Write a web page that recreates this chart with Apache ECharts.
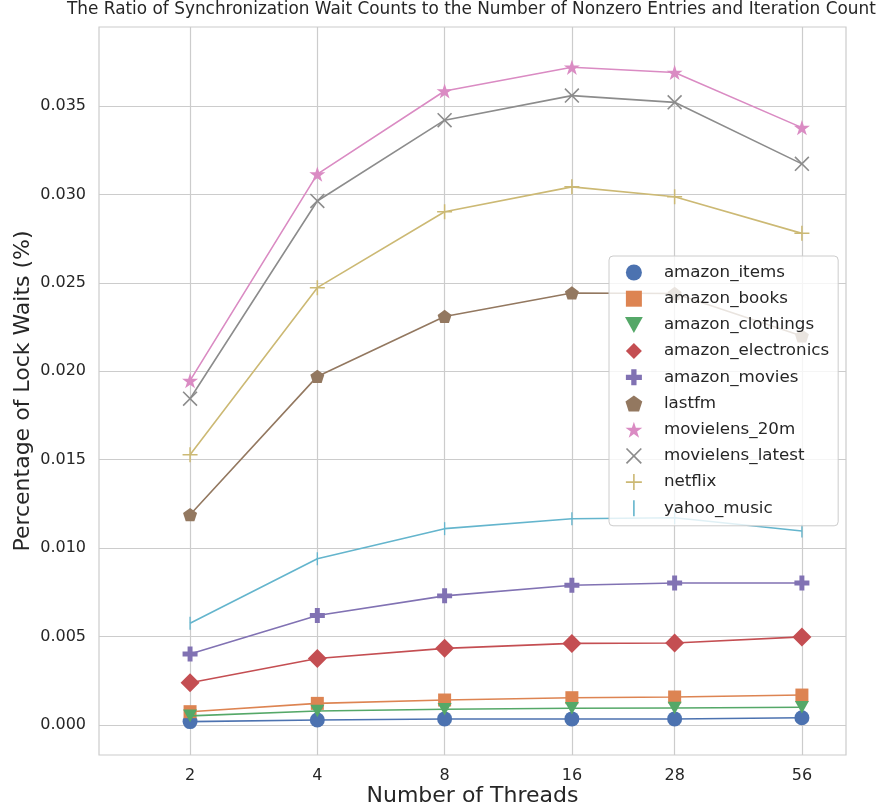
<!DOCTYPE html>
<html>
<head>
<meta charset="utf-8">
<script src="https://cdn.jsdelivr.net/npm/echarts@6/dist/echarts.min.js"></script>
<style>html,body{margin:0;padding:0;background:#fff}#c{width:878px;height:810px}</style>
</head>
<body>
<div id="c"></div>
<script>
const threads = [2, 4, 8, 16, 28, 56];
const xTickLabels = ['2', '4', '8', '16', '28', '56'];
const yTicks = [0, 0.005, 0.010, 0.015, 0.020, 0.025, 0.030, 0.035];

const amazon_items       = [0.00019, 0.00028, 0.00034, 0.00034, 0.00034, 0.00041];
const amazon_books       = [0.00075, 0.00122, 0.00141, 0.00154, 0.00158, 0.00169];
const amazon_clothings   = [0.00051, 0.00079, 0.00089, 0.00094, 0.00096, 0.00100];
const amazon_electronics = [0.00239, 0.00376, 0.00433, 0.00461, 0.00463, 0.00498];
const amazon_movies      = [0.00401, 0.00619, 0.00730, 0.00790, 0.00803, 0.00803];
const lastfm             = [0.01189, 0.01971, 0.02310, 0.02443, 0.02440, 0.02200];
const movielens_20m      = [0.01947, 0.03115, 0.03585, 0.03719, 0.03690, 0.03378];
const movielens_latest   = [0.01845, 0.02963, 0.03420, 0.03559, 0.03521, 0.03173];
const netflix            = [0.01528, 0.02473, 0.02902, 0.03043, 0.02987, 0.02780];
const yahoo_music        = [0.00575, 0.00940, 0.01110, 0.01166, 0.01172, 0.01097];

const seriesNames = ['amazon_items','amazon_books','amazon_clothings','amazon_electronics','amazon_movies','lastfm','movielens_20m','movielens_latest','netflix','yahoo_music'];
const seriesValues = [amazon_items, amazon_books, amazon_clothings, amazon_electronics, amazon_movies, lastfm, movielens_20m, movielens_latest, netflix, yahoo_music];
const colors = ['#4C72B0','#DD8452','#55A868','#C44E52','#8172B3','#937860','#DA8BC3','#8C8C8C','#CCB974','#64B5CD'];

const SYM = {
  circle: 'circle',
  square: 'path://M-1,-1 H1 V1 H-1 Z',
  tri: 'path://M-1,-0.9 L1,-0.9 L0,0.9 Z',
  diamond: 'path://M0,-1 L1,0 L0,1 L-1,0 Z',
  plusFilled: 'path://M-0.33,-1 H0.33 V-0.33 H1 V0.33 H0.33 V1 H-0.33 V0.33 H-1 V-0.33 H-0.33 Z',
  pentagon: 'path://M0,-1 L0.951,-0.309 L0.588,0.809 L-0.588,0.809 L-0.951,-0.309 Z',
  star: 'path://M0,-1 L0.2245,-0.309 L0.951,-0.309 L0.363,0.118 L0.588,0.809 L0,0.382 L-0.588,0.809 L-0.363,0.118 L-0.951,-0.309 L-0.2245,-0.309 Z',
  x: 'path://M-1,-0.85 L-0.85,-1 L1,0.85 L0.85,1 Z M0.85,-1 L1,-0.85 L-0.85,1 L-1,0.85 Z',
  plus: 'path://M-1,-0.1 H1 V0.1 H-1 Z M-0.1,-1 H0.1 V1 H-0.1 Z',
  vline: 'path://M-0.1,-1 H0.1 V1 H-0.1 Z'
};
const symbols = [SYM.circle, SYM.square, SYM.tri, SYM.diamond, SYM.plusFilled, SYM.pentagon, SYM.star, SYM.x, SYM.plus, SYM.vline];
const symSizes = [15, 13, 14, 19, 15, 14, 16, 15, 15, 13];

const txt = '#262626';
const font = 'DejaVu Sans';

const series = seriesNames.map((name, i) => ({
  name: name,
  type: 'line',
  data: threads.map((t, j) => [t, seriesValues[i][j]]),
  symbol: symbols[i],
  symbolSize: symSizes[i],
  symbolKeepAspect: true,
  showSymbol: true,
  showAllSymbol: true,
  lineStyle: { width: 1.6, color: colors[i] },
  itemStyle: { color: colors[i], opacity: 1 },
  emphasis: { disabled: true },
  z: 2 + i
}));

const chart = echarts.init(document.getElementById('c'), null, { renderer: 'canvas' });
chart.setOption({
  animation: false,
  backgroundColor: '#ffffff',
  color: colors,
  title: {
    text: 'The Ratio of Synchronization Wait Counts to the Number of Nonzero Entries and Iteration Count',
    left: 67, top: 1, padding: 0,
    textStyle: { fontFamily: font, fontSize: 16.9, fontWeight: 'normal', color: txt }
  },
  grid: { left: 99, right: 32, top: 27, bottom: 55, outerBoundsMode: 'none', containLabel: false,
          show: true, borderColor: '#cccccc', borderWidth: 1.2 },
  legend: {
    orient: 'vertical',
    left: 609, top: 256,
    z: 50,
    padding: [8, 9, 9, 16],
    itemWidth: 30, itemHeight: 16, itemGap: 9.2,
    backgroundColor: 'rgba(255,255,255,0.8)',
    borderColor: '#cccccc', borderWidth: 1, borderRadius: 4,
    textStyle: { fontFamily: font, fontSize: 16.7, color: txt, padding: [0, 0, 0, 10] },
    data: seriesNames.map((n, i) => ({ name: n, icon: symbols[i] })),
    selectedMode: false
  },
  xAxis: {
    type: 'log', logBase: 2,
    min: 1.218, max: 71.2,
    name: 'Number of Threads', nameLocation: 'middle', nameGap: 30,
    nameMoveOverlap: false,
    nameTextStyle: { fontFamily: font, fontSize: 22, color: txt },
    axisLine: { show: false },
    axisTick: { show: false, customValues: threads },
    axisLabel: {
      customValues: threads, margin: 13,
      fontFamily: font, fontSize: 16, color: txt,
      formatter: v => xTickLabels[threads.indexOf(Math.round(v))] || ''
    },
    splitLine: { show: true, lineStyle: { color: '#cccccc', width: 1.2 } },
    minorSplitLine: { show: false }
  },
  yAxis: {
    type: 'value',
    min: -0.0017, max: 0.03947,
    name: 'Percentage of Lock Waits (%)', nameLocation: 'middle', nameGap: 65,
    nameMoveOverlap: false,
    nameTextStyle: { fontFamily: font, fontSize: 22, color: txt },
    axisLine: { show: false },
    axisTick: { show: false, customValues: yTicks },
    axisLabel: {
      customValues: yTicks, margin: 13,
      fontFamily: font, fontSize: 16, color: txt,
      formatter: v => v.toFixed(3)
    },
    splitLine: { show: true, lineStyle: { color: '#cccccc', width: 1.2 } }
  },
  series: series
});
</script>
</body>
</html>
